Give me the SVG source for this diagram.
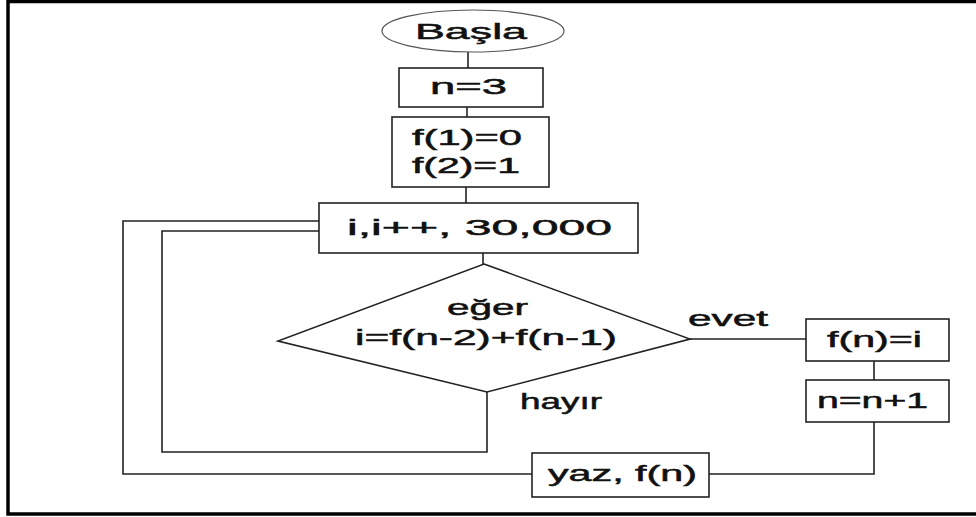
<svg xmlns="http://www.w3.org/2000/svg" width="976" height="517" viewBox="0 0 976 517">
<style>
.box{fill:#fff;stroke:#222;stroke-width:1.6}
.ln{fill:none;stroke:#222;stroke-width:1.6}
.t{font-family:"Liberation Sans",Arial,sans-serif;font-size:22px;fill:#111;stroke:#111;stroke-width:0.5}
</style>
<rect width="976" height="517" fill="#fff"/>
<path d="M976,1.5 H8 V514 H976" fill="none" stroke="#000" stroke-width="3.5"/>
<g id="connectors">
<path class="ln" d="M468,52 V68"/>
<path class="ln" d="M467,107 V117"/>
<path class="ln" d="M466,187 V203"/>
<path class="ln" d="M483,253 V264"/>
<path class="ln" d="M690,339 H806"/>
<path class="ln" d="M874,361 V380"/>
<path class="ln" d="M874,422 V474 H709"/>
<path class="ln" d="M532,474 H123 V221 H319"/>
<path class="ln" d="M487,392 V452 H162 V231 H319"/>
</g>
<g id="start">
<ellipse cx="473" cy="31" rx="91" ry="21" fill="#fff" stroke="#555" stroke-width="1.2"/>
<text class="t" x="415" y="39" textLength="112" lengthAdjust="spacingAndGlyphs">Başla</text>
</g>
<g id="n3">
<rect class="box" x="399" y="68" width="144" height="39"/>
<text class="t" x="430" y="94" textLength="77" lengthAdjust="spacingAndGlyphs">n=3</text>
</g>
<g id="init">
<rect class="box" x="392" y="117" width="157" height="70"/>
<text class="t" x="412" y="145" textLength="110" lengthAdjust="spacingAndGlyphs">f(1)=0</text>
<text class="t" x="412" y="173" textLength="108" lengthAdjust="spacingAndGlyphs">f(2)=1</text>
</g>
<g id="loop">
<rect class="box" x="319" y="203" width="319" height="50"/>
<text class="t" x="347" y="235" textLength="265" lengthAdjust="spacingAndGlyphs">i,i++, 30,000</text>
</g>
<g id="decision">
<polygon class="box" points="484,264 690,339 487,392 278,341"/>
<text class="t" x="447" y="315" textLength="81" lengthAdjust="spacingAndGlyphs">eğer</text>
<text class="t" x="355" y="345" textLength="262" lengthAdjust="spacingAndGlyphs">i=f(n-2)+f(n-1)</text>
</g>
<g id="labels">
<text class="t" x="520" y="409" textLength="82" lengthAdjust="spacingAndGlyphs">hayır</text>
<text class="t" x="688" y="326" textLength="80" lengthAdjust="spacingAndGlyphs">evet</text>
</g>
<g id="fn">
<rect class="box" x="806" y="319" width="143" height="42"/>
<text class="t" x="827" y="347" textLength="95" lengthAdjust="spacingAndGlyphs">f(n)=i</text>
</g>
<g id="inc">
<rect class="box" x="806" y="380" width="143" height="42"/>
<text class="t" x="817" y="408" textLength="111" lengthAdjust="spacingAndGlyphs">n=n+1</text>
</g>
<g id="write">
<rect class="box" x="532" y="453" width="177" height="44"/>
<text class="t" x="548" y="481" textLength="149" lengthAdjust="spacingAndGlyphs">yaz, f(n)</text>
</g>
</svg>
